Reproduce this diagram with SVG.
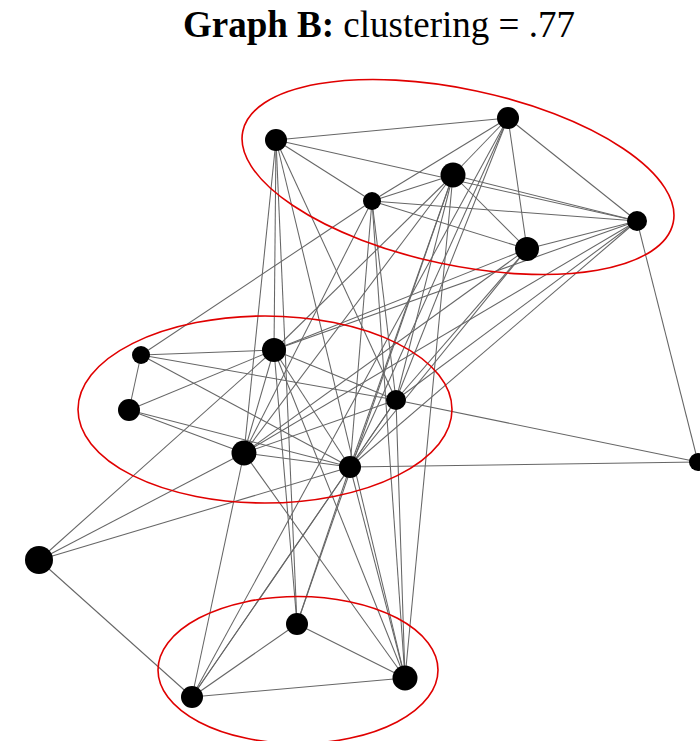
<svg xmlns="http://www.w3.org/2000/svg" width="700" height="741" viewBox="0 0 700 741">
<style>
.e{stroke:#666;stroke-width:1.05;fill:none}
.n{fill:#000}
.c{fill:none;stroke:#e00000;stroke-width:1.6}
.t{font-family:"Liberation Serif","Times New Roman",serif;font-size:37px;fill:#000}
</style>
<rect width="700" height="741" fill="#fff"/>
<text class="t" x="183" y="37"><tspan font-weight="bold">Graph B:</tspan> clustering = .77</text>
<g id="connectors">
<line class="e" x1="276" y1="140" x2="508" y2="118"/>
<line class="e" x1="276" y1="140" x2="372" y2="201"/>
<line class="e" x1="276" y1="140" x2="637" y2="221"/>
<line class="e" x1="508" y1="118" x2="453" y2="175"/>
<line class="e" x1="508" y1="118" x2="372" y2="201"/>
<line class="e" x1="508" y1="118" x2="527" y2="249"/>
<line class="e" x1="508" y1="118" x2="637" y2="221"/>
<line class="e" x1="453" y1="175" x2="372" y2="201"/>
<line class="e" x1="453" y1="175" x2="527" y2="249"/>
<line class="e" x1="453" y1="175" x2="637" y2="221"/>
<line class="e" x1="372" y1="201" x2="527" y2="249"/>
<line class="e" x1="372" y1="201" x2="637" y2="221"/>
<line class="e" x1="527" y1="249" x2="637" y2="221"/>
<line class="e" x1="276" y1="140" x2="244" y2="453"/>
<line class="e" x1="276" y1="140" x2="274" y2="350"/>
<line class="e" x1="276" y1="140" x2="405" y2="678"/>
<line class="e" x1="276" y1="140" x2="396" y2="400"/>
<line class="e" x1="508" y1="118" x2="350" y2="467"/>
<line class="e" x1="508" y1="118" x2="396" y2="400"/>
<line class="e" x1="508" y1="118" x2="192" y2="697"/>
<line class="e" x1="453" y1="175" x2="274" y2="350"/>
<line class="e" x1="453" y1="175" x2="244" y2="453"/>
<line class="e" x1="453" y1="175" x2="350" y2="467"/>
<line class="e" x1="453" y1="175" x2="297" y2="624"/>
<line class="e" x1="453" y1="175" x2="396" y2="400"/>
<line class="e" x1="453" y1="175" x2="405" y2="678"/>
<line class="e" x1="372" y1="201" x2="141" y2="355"/>
<line class="e" x1="372" y1="201" x2="244" y2="453"/>
<line class="e" x1="372" y1="201" x2="350" y2="467"/>
<line class="e" x1="372" y1="201" x2="405" y2="678"/>
<line class="e" x1="372" y1="201" x2="396" y2="400"/>
<line class="e" x1="527" y1="249" x2="274" y2="350"/>
<line class="e" x1="527" y1="249" x2="244" y2="453"/>
<line class="e" x1="527" y1="249" x2="350" y2="467"/>
<line class="e" x1="527" y1="249" x2="396" y2="400"/>
<line class="e" x1="637" y1="221" x2="274" y2="350"/>
<line class="e" x1="637" y1="221" x2="244" y2="453"/>
<line class="e" x1="637" y1="221" x2="396" y2="400"/>
<line class="e" x1="637" y1="221" x2="350" y2="467"/>
<line class="e" x1="637" y1="221" x2="698" y2="462"/>
<line class="e" x1="141" y1="355" x2="274" y2="350"/>
<line class="e" x1="141" y1="355" x2="129" y2="410"/>
<line class="e" x1="141" y1="355" x2="396" y2="400"/>
<line class="e" x1="141" y1="355" x2="350" y2="467"/>
<line class="e" x1="274" y1="350" x2="129" y2="410"/>
<line class="e" x1="274" y1="350" x2="396" y2="400"/>
<line class="e" x1="274" y1="350" x2="244" y2="453"/>
<line class="e" x1="274" y1="350" x2="350" y2="467"/>
<line class="e" x1="274" y1="350" x2="297" y2="624"/>
<line class="e" x1="274" y1="350" x2="405" y2="678"/>
<line class="e" x1="274" y1="350" x2="39" y2="560"/>
<line class="e" x1="129" y1="410" x2="244" y2="453"/>
<line class="e" x1="129" y1="410" x2="350" y2="467"/>
<line class="e" x1="396" y1="400" x2="350" y2="467"/>
<line class="e" x1="396" y1="400" x2="698" y2="462"/>
<line class="e" x1="396" y1="400" x2="405" y2="678"/>
<line class="e" x1="396" y1="400" x2="244" y2="453"/>
<line class="e" x1="396" y1="400" x2="192" y2="697"/>
<line class="e" x1="244" y1="453" x2="350" y2="467"/>
<line class="e" x1="244" y1="453" x2="39" y2="560"/>
<line class="e" x1="244" y1="453" x2="192" y2="697"/>
<line class="e" x1="244" y1="453" x2="405" y2="678"/>
<line class="e" x1="350" y1="467" x2="698" y2="462"/>
<line class="e" x1="350" y1="467" x2="39" y2="560"/>
<line class="e" x1="350" y1="467" x2="192" y2="697"/>
<line class="e" x1="350" y1="467" x2="297" y2="624"/>
<line class="e" x1="350" y1="467" x2="405" y2="678"/>
<line class="e" x1="39" y1="560" x2="192" y2="697"/>
<line class="e" x1="297" y1="624" x2="192" y2="697"/>
<line class="e" x1="297" y1="624" x2="405" y2="678"/>
<line class="e" x1="297" y1="624" x2="276" y2="140"/>
<line class="e" x1="192" y1="697" x2="405" y2="678"/>
</g>
<g id="clusters">
<ellipse class="c" cx="458" cy="177" rx="220" ry="88" transform="rotate(12 458 177)"/>
<ellipse class="c" cx="265" cy="409.5" rx="187" ry="93.5"/>
<ellipse class="c" cx="298" cy="670" rx="140" ry="73.5"/>
</g>
<g id="nA"><circle class="n" cx="276" cy="140" r="11"/></g>
<g id="nB"><circle class="n" cx="508" cy="118" r="11"/></g>
<g id="nC"><circle class="n" cx="453" cy="175" r="12.5"/></g>
<g id="nD"><circle class="n" cx="372" cy="201" r="9"/></g>
<g id="nE"><circle class="n" cx="527" cy="249" r="12"/></g>
<g id="nF"><circle class="n" cx="637" cy="221" r="10"/></g>
<g id="nG"><circle class="n" cx="141" cy="355" r="9"/></g>
<g id="nH"><circle class="n" cx="274" cy="350" r="12"/></g>
<g id="nI"><circle class="n" cx="129" cy="410" r="11"/></g>
<g id="nJ"><circle class="n" cx="396" cy="400" r="10"/></g>
<g id="nK"><circle class="n" cx="244" cy="453" r="12.5"/></g>
<g id="nL"><circle class="n" cx="350" cy="467" r="11"/></g>
<g id="nM"><circle class="n" cx="698" cy="462" r="9"/></g>
<g id="nN"><circle class="n" cx="39" cy="560" r="14"/></g>
<g id="nO"><circle class="n" cx="297" cy="624" r="11"/></g>
<g id="nP"><circle class="n" cx="192" cy="697" r="11"/></g>
<g id="nQ"><circle class="n" cx="405" cy="678" r="12.5"/></g>
</svg>
